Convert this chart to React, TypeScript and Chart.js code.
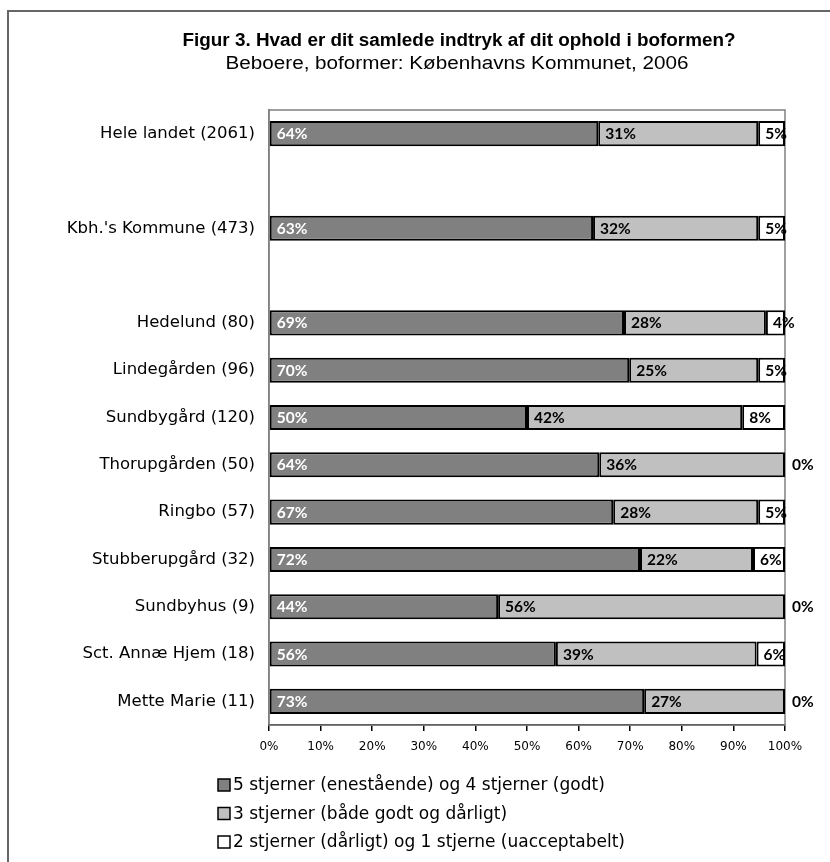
import React, { useEffect, useRef } from 'react';
import { Chart, registerables } from 'chart.js';

Chart.register(...registerables);

const categories = [
  'Hele landet (2061)',
  '',
  "Kbh.'s Kommune (473)",
  '',
  'Hedelund (80)',
  'Lindegården (96)',
  'Sundbygård (120)',
  'Thorupgården (50)',
  'Ringbo (57)',
  'Stubberupgård (32)',
  'Sundbyhus (9)',
  'Sct. Annæ Hjem (18)',
  'Mette Marie (11)',
];

const stars54 = [63.8, null, 62.8, null, 68.8, 69.8, 50.0, 64.0, 66.7, 71.9, 44.4, 55.6, 72.7];
const stars3 = [31.0, null, 32.0, null, 27.5, 25.0, 41.7, 36.0, 28.1, 21.9, 55.6, 38.9, 27.3];
const stars21 = [5.2, null, 5.2, null, 3.7, 5.2, 8.3, 0, 5.2, 6.2, 0, 5.5, 0];

const seriesLabels = [
  '5 stjerner (enestående) og 4 stjerner (godt)',
  '3 stjerner (både godt og dårligt)',
  '2 stjerner (dårligt) og 1 stjerne (uacceptabelt)',
];

const titleText = 'Figur 3. Hvad er dit samlede indtryk af dit ophold i boformen?';
const subtitleText = 'Beboere, boformer: Københavns Kommunet, 2006';

const xTicks = [0, 10, 20, 30, 40, 50, 60, 70, 80, 90, 100];

const fillColors = ['#808080', '#c0c0c0', '#ffffff'];
const labelColors = ['#ffffff', '#000000', '#000000'];

function fillStretched(ctx: CanvasRenderingContext2D, text: string, cx: number, cy: number, width: number) {
  const natural = ctx.measureText(text).width;
  const sx = width / natural;
  ctx.save();
  ctx.translate(cx, cy);
  ctx.scale(sx, 1);
  ctx.textAlign = 'center';
  ctx.fillText(text, 0, 0);
  ctx.restore();
}

const decorPlugin = {
  id: 'decor',
  beforeDatasetsDraw(chart: any) {
    const { ctx, chartArea } = chart;
    ctx.save();
    ctx.strokeStyle = '#808080';
    ctx.lineWidth = 1.5;
    ctx.strokeRect(chartArea.left, chartArea.top, chartArea.right - chartArea.left, chartArea.bottom - chartArea.top);
    ctx.restore();
  },
  afterDraw(chart: any) {
    const { ctx } = chart;
    ctx.save();
    // outer frame
    ctx.strokeStyle = '#666666';
    ctx.lineWidth = 2;
    ctx.beginPath();
    ctx.moveTo(8, 862);
    ctx.lineTo(8, 11);
    ctx.lineTo(830, 11);
    ctx.stroke();

    // title
    ctx.fillStyle = '#000';
    ctx.textBaseline = 'middle';
    ctx.font = 'bold 18px "Liberation Sans", Arial, sans-serif';
    fillStretched(ctx, titleText, 459, 41, 553);
    ctx.font = '18px "Liberation Sans", Arial, sans-serif';
    fillStretched(ctx, subtitleText, 457, 64, 463);

    // data labels
    ctx.font = 'bold 15.5px Lato, sans-serif';
    ctx.textAlign = 'left';
    chart.data.datasets.forEach((ds: any, di: number) => {
      const meta = chart.getDatasetMeta(di);
      meta.data.forEach((el: any, i: number) => {
        const v = ds.data[i];
        if (v === null || v === undefined) return;
        const p = el.getProps(['x', 'y', 'base'], true);
        const start = Math.min(p.x, p.base);
        ctx.fillStyle = v === 0 ? '#000' : labelColors[di];
        ctx.fillText(Math.round(v) + '%', start + 7, p.y + 0.5);
      });
    });

    // legend
    ctx.font = '17px "DejaVu Sans", Verdana, sans-serif';
    chart.data.datasets.forEach((ds: any, di: number) => {
      const y = 785 + di * 28.5;
      ctx.fillStyle = ds.backgroundColor;
      ctx.fillRect(218, y - 6, 12, 12);
      ctx.strokeStyle = '#000';
      ctx.lineWidth = 1.5;
      ctx.strokeRect(218, y - 6, 12, 12);
      ctx.fillStyle = '#000';
      ctx.textAlign = 'left';
      ctx.fillText(ds.label, 233, y + 1);
    });
    ctx.restore();
  },
};

export default function App() {
  const ref = useRef<HTMLCanvasElement>(null);
  useEffect(() => {
    document.body.style.margin = '0';
    const canvas = ref.current!;
    const datasets = [stars54, stars3, stars21].map((d, i) => ({
      label: seriesLabels[i],
      data: d,
      backgroundColor: fillColors[i],
      borderColor: '#000000',
      borderWidth: 2,
      borderSkipped: false,
      barPercentage: 0.53,
      categoryPercentage: 1,
    }));
    const chart = new Chart(canvas, {
      type: 'bar',
      data: { labels: categories, datasets },
      plugins: [decorPlugin],
      options: {
        indexAxis: 'y',
        responsive: false,
        animation: false,
        devicePixelRatio: 1,
        layout: { padding: { left: 0, right: 45, top: 110, bottom: 107 } },
        plugins: {
          legend: { display: false },
          title: { display: false },
          tooltip: { enabled: false },
        },
        scales: {
          y: {
            stacked: true,
            grid: { display: false },
            border: { display: true, color: '#808080', width: 1.5 },
            ticks: {
              color: '#000',
              padding: 6,
              font: { family: '"DejaVu Sans", Verdana, sans-serif', size: 16.5 },
            },
            afterFit: (axis: any) => {
              axis.width = 269;
            },
          },
          x: {
            stacked: true,
            min: 0,
            max: 100,
            afterBuildTicks: (axis: any) => {
              axis.ticks = xTicks.map((v) => ({ value: v }));
            },
            grid: {
              drawOnChartArea: false,
              drawTicks: true,
              tickLength: 6,
              color: '#000',
              lineWidth: 1.5,
            },
            border: { display: true, color: '#000', width: 1.5 },
            ticks: {
              color: '#000',
              padding: 9,
              maxRotation: 0,
              autoSkip: false,
              font: { family: '"DejaVu Sans", Verdana, sans-serif', size: 12 },
              callback: (v: any) => v + '%',
            },
            afterFit: (axis: any) => {
              axis.height = 30;
            },
          },
        },
      },
    });
    return () => chart.destroy();
  }, []);
  return (
    <div style={{ position: 'absolute', left: 0, top: 0, width: 830, height: 862, background: '#fff' }}>
      <canvas ref={ref} width={830} height={862} style={{ width: 830, height: 862, display: 'block' }} />
    </div>
  );
}
